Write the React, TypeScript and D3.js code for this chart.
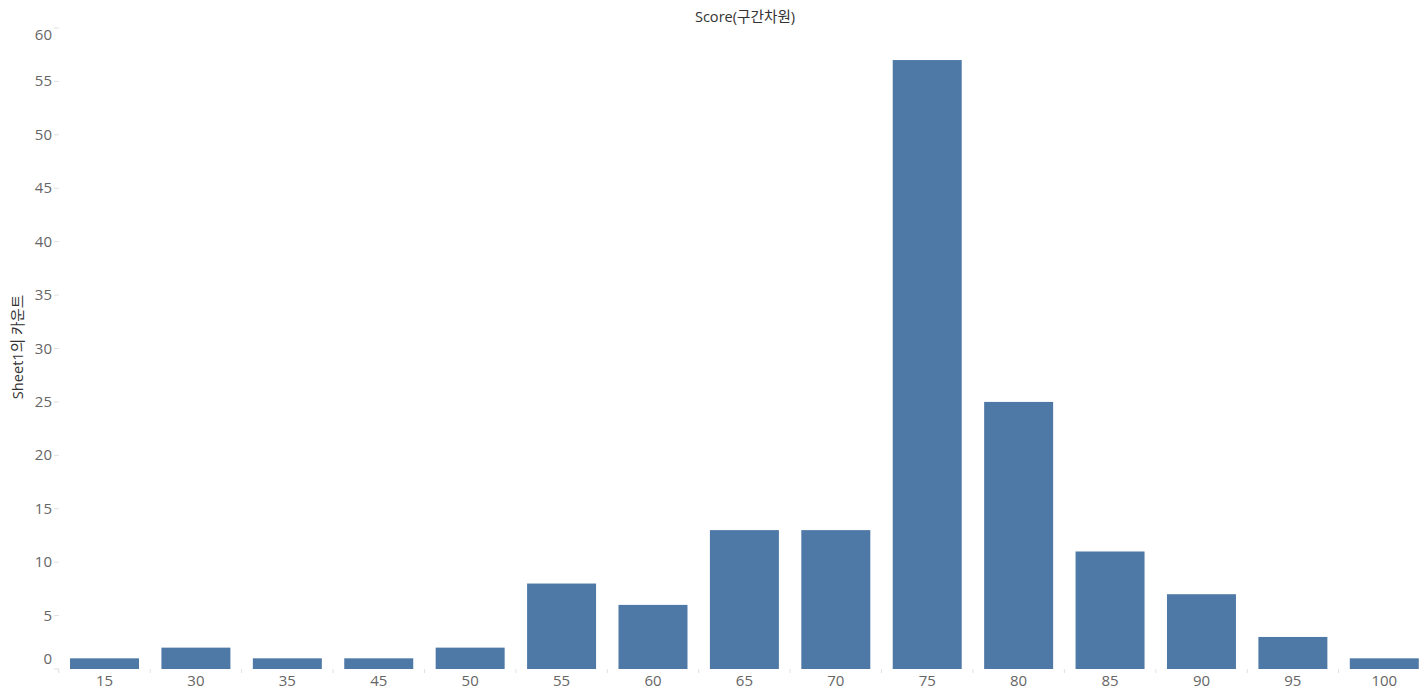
import React from "react";
import * as d3 from "d3";

const categories = ["15", "30", "35", "45", "50", "55", "60", "65", "70", "75", "80", "85", "90", "95", "100"];
const counts = [1, 2, 1, 1, 2, 8, 6, 13, 13, 57, 25, 11, 7, 3, 1];
const yTicks = [0, 5, 10, 15, 20, 25, 30, 35, 40, 45, 50, 55, 60];
const title = "Score(구간차원)";
const yTitle = "Sheet1의 카운트";

const W = 1426;
const H = 693;
const FONT = "'Open Sans', 'Noto Sans CJK KR', sans-serif";

export default function App() {
  const x = d3.scaleBand<string>().domain(categories).range([58.8, 1430]).paddingInner(1 - 69 / 91.43).paddingOuter((1 - 69 / 91.43) / 2);
  const y = d3.scaleLinear().domain([0, 60]).range([669, 28]);
  const step = x.step();
  const bounds = categories.map((_, i) => 58.8 + i * step).concat([58.8 + categories.length * step]);

  return (
    <svg width={W} height={H} style={{ position: "absolute", left: 0, top: 0, background: "#fff" }}>
      <text x={745} y={22} textAnchor="middle" fontFamily={FONT} fontSize={14.6} fill="#333">{title}</text>
      <text transform={`translate(23,347) rotate(-90)`} textAnchor="middle" fontFamily={FONT} fontSize={14.6} fill="#333">{yTitle}</text>
      {yTicks.map((t) => {
        const yy = y(t);
        let ly = yy + 5;
        if (t === 60) ly = yy + 12;
        if (t === 0) ly = yy - 5;
        return (
          <g key={t}>
            <line x1={54} x2={59} y1={yy} y2={yy} stroke="#e0e0e0" />
            <text x={52} y={ly} textAnchor="end" fontFamily={FONT} fontSize={15} fill="#666">{t}</text>
          </g>
        );
      })}
      {bounds.map((b, i) => (
        <line key={i} x1={b} x2={b} y1={669} y2={673} stroke="#e0e0e0" />
      ))}
      {categories.map((c, i) => (
        <rect key={c} x={x(c)} y={y(counts[i])} width={x.bandwidth()} height={669 - y(counts[i])} fill="#4e79a7" />
      ))}
      {categories.map((c) => (
        <text key={c} x={(x(c) as number) + x.bandwidth() / 2} y={686} textAnchor="middle" fontFamily={FONT} fontSize={15} fill="#666">{c}</text>
      ))}
    </svg>
  );
}
